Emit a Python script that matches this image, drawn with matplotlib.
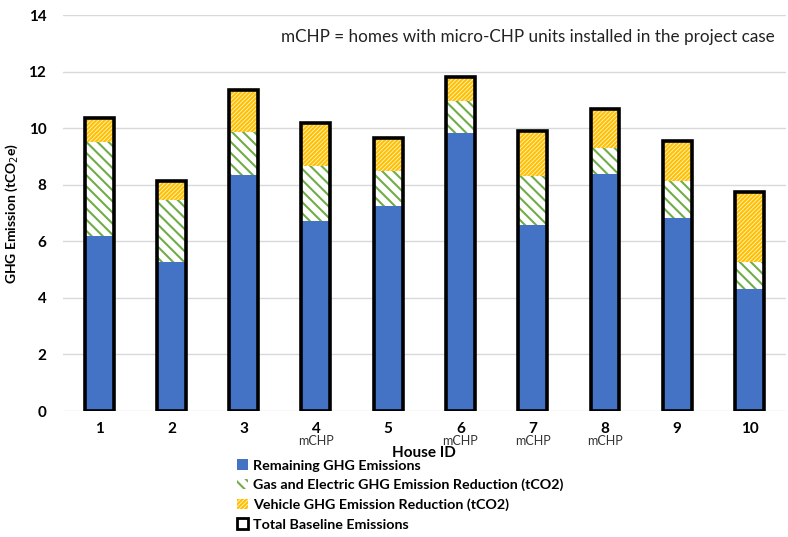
import numpy as np
import matplotlib
matplotlib.use('Agg')
import matplotlib.pyplot as plt
from matplotlib.patches import Patch

plt.rcParams['font.family'] = ['Lato', 'DejaVu Sans']
plt.rcParams['hatch.linewidth'] = 1.5

# values
house_ids = ['1', '2', '3', '4', '5', '6', '7', '8', '9', '10']
mchp_homes = ['4', '6', '7', '8']
remaining = [6.2, 5.27, 8.34, 6.71, 7.24, 9.82, 6.57, 8.37, 6.82, 4.31]
gas_elec_red = [3.3, 2.18, 1.52, 1.95, 1.26, 1.13, 1.73, 0.93, 1.31, 0.96]
vehicle_red = [0.85, 0.7, 1.49, 1.52, 1.15, 0.85, 1.6, 1.37, 1.41, 2.47]
total_baseline = [10.35, 8.15, 11.35, 10.18, 9.65, 11.8, 9.9, 10.67, 9.54, 7.74]

blue = '#4472C4'
green = '#70AD47'
yellow = '#FFC000'

fig = plt.figure(figsize=(7.88, 5.37), dpi=100)
ax = fig.add_axes([0.08, 0.2346, 0.917, 0.7374])

x = np.arange(len(house_ids))
w = 0.4
rem = np.array(remaining)
gas = np.array(gas_elec_red)
veh = np.array(vehicle_red)

ax.bar(x, rem, w, color=blue, linewidth=0, zorder=2)
ax.bar(x, gas, w, bottom=rem, facecolor='white', edgecolor=green,
       hatch='\\\\\\', linewidth=0, zorder=2)
ax.bar(x, veh, w, bottom=rem + gas, facecolor='#FFF3CF', edgecolor=yellow,
       hatch='////////', linewidth=0, zorder=2)
ax.bar(x, total_baseline, w, fill=False, edgecolor='black', linewidth=2.6, zorder=3)

ax.set_ylim(0, 14)
ax.set_xlim(-0.5, len(house_ids) - 0.5)
ax.set_yticks(np.arange(0, 15, 2))
ax.set_xticks(x)
ax.set_xticklabels(house_ids, fontweight='bold', fontsize=11)
ax.tick_params(axis='y', labelsize=11, length=0, pad=12)
ax.tick_params(axis='x', length=0, pad=8)
for t in ax.get_yticklabels():
    t.set_fontweight('bold')
ax.grid(axis='y', color='#D9D9D9', linewidth=1, zorder=0)
for s in ax.spines.values():
    s.set_visible(False)

# mCHP markers under the tick labels
for hid in mchp_homes:
    i = house_ids.index(hid)
    ax.text(i, -1.05, 'mCHP', ha='center', va='center', fontsize=9, color='#333333')

ax.set_xlabel('House ID', fontweight='bold', fontsize=11)
ax.xaxis.set_label_coords(0.5, -0.088)
ax.set_ylabel('GHG Emission (tCO$_2$e)', fontweight='bold', fontsize=10)
ax.yaxis.set_label_coords(-0.06, 0.5)

ax.text(0.985, 0.945, 'mCHP = homes with micro-CHP units installed in the project case',
        transform=ax.transAxes, ha='right', va='center', fontsize=12.3, color='#222222')

handles = [
    Patch(facecolor=blue, linewidth=0),
    Patch(facecolor='white', edgecolor=green, hatch='\\\\\\', linewidth=0),
    Patch(facecolor='#FFF3CF', edgecolor=yellow, hatch='////////', linewidth=0),
    Patch(facecolor='white', edgecolor='black', linewidth=2),
]
labels = ['Remaining GHG Emissions',
          'Gas and Electric GHG Emission Reduction (tCO2)',
          'Vehicle GHG Emission Reduction (tCO2)',
          'Total Baseline Emissions']
leg = fig.legend(handles, labels, loc='upper left', bbox_to_anchor=(0.292, 0.158),
                 frameon=False, fontsize=10.3, handlelength=0.75, handleheight=0.75,
                 handletextpad=0.35, labelspacing=0.5, borderpad=0)
for t in leg.get_texts():
    t.set_fontweight('bold')

fig.savefig('out.png', dpi=100)
